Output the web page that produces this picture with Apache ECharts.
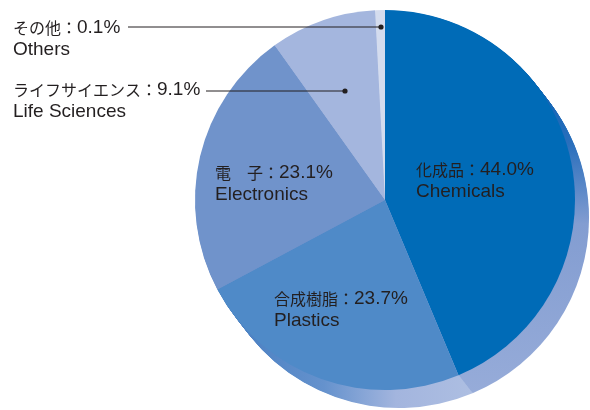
<!DOCTYPE html>
<html>
<head>
<meta charset="utf-8">
<script src="https://cdn.jsdelivr.net/npm/echarts@6/dist/echarts.min.js"></script>
<style>html,body{margin:0;padding:0;background:#fff}#c{width:590px;height:410px}</style>
</head>
<body>
<div id="c"></div>
<script>
const categoriesJa = ['化成品', '合成樹脂', '電　子', 'ライフサイエンス', 'その他'];
const categoriesEn = ['Chemicals', 'Plastics', 'Electronics', 'Life Sciences', 'Others'];
const shares = [44.0, 23.7, 23.1, 9.1, 0.1];

const sliceColors = ['#006bb7', '#4f8ac8', '#7093cb', '#a4b6de', '#d4dcee'];
const labelPos = [[416, 159], [274, 288], [215, 162], [13, 79], [13, 17]];
const leaderLines = [[[128, 27], [381, 27]], [[206, 91], [345, 91]]];
const leaderDots = [[381, 27], [345, 91]];

const CX = 385, CY = 200, R = 190;
const LATIN = '"Liberation Sans", Arial, sans-serif';
const CJK = '"Noto Sans CJK JP", sans-serif';
const INK = '#231f20';

function sideColor(i) {
  const G = echarts.graphic.LinearGradient;
  if (i === 0) return new G(0, 80, 0, 400, [
    {offset: 0, color: '#0d62b3'}, {offset: 0.2, color: '#2a6fbc'},
    {offset: 0.45, color: '#839dd1'}, {offset: 1, color: '#97acd9'}], true);
  if (i === 1) return new G(240, 0, 480, 0, [
    {offset: 0, color: '#4b80c2'}, {offset: 0.35, color: '#6592cd'},
    {offset: 0.65, color: '#a3b5de'}, {offset: 1, color: '#aebfe2'}], true);
  return sliceColors[i];
}

const baseData = shares.map((v, i) => ({name: categoriesEn[i], value: v}));
const series = [];
const LAYERS = 26, DX = 14, DY = 18;
for (let k = LAYERS; k >= 1; k--) {
  series.push({
    type: 'pie', silent: true, animation: false, z: 1,
    center: [CX + DX * k / LAYERS, CY + DY * k / LAYERS],
    radius: R, startAngle: 90, minAngle: 3,
    label: {show: false}, labelLine: {show: false},
    data: baseData.map((d, i) => ({...d, itemStyle: {color: sideColor(i)}}))
  });
}
series.push({
  type: 'pie', animation: false, z: 5, silent: true,
  center: [CX, CY], radius: R, startAngle: 90, minAngle: 3,
  data: baseData.map((d, i) => ({...d, itemStyle: {color: sliceColors[i]}})),
  labelLine: {show: false},
  label: {
    show: true, position: 'inside', align: 'left', color: INK, lineHeight: 22,
    formatter: p => '{j|' + categoriesJa[p.dataIndex] + '：}{n|' + shares[p.dataIndex].toFixed(1) + '%}\n{e|' + categoriesEn[p.dataIndex] + '}',
    rich: {
      j: {fontFamily: CJK, fontSize: 16, color: INK, lineHeight: 22},
      n: {fontFamily: LATIN, fontSize: 19, color: INK, lineHeight: 22},
      e: {fontFamily: LATIN, fontSize: 19, color: INK, lineHeight: 22}
    }
  },
  labelLayout: p => {
    const pos = labelPos[p.dataIndex];
    return {x: pos[0], y: pos[1], align: 'left', verticalAlign: 'top'};
  }
});

const graphics = [];
leaderLines.forEach(pts => graphics.push({type: 'polyline', shape: {points: pts}, style: {stroke: INK, lineWidth: 1, fill: null}, z: 100, silent: true}));
leaderDots.forEach(d => graphics.push({type: 'circle', shape: {cx: d[0], cy: d[1], r: 2.6}, style: {fill: INK}, z: 100, silent: true}));

const chart = echarts.init(document.getElementById('c'), null, {renderer: 'canvas'});
chart.setOption({backgroundColor: '#fff', series: series, graphic: graphics});
</script>
</body>
</html>
